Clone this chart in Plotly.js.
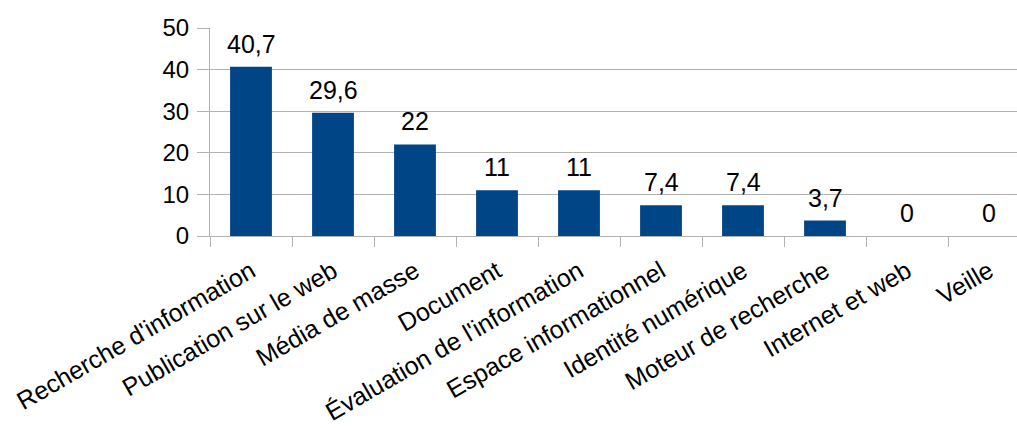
<!DOCTYPE html>
<html>
<head>
<meta charset="utf-8">
<script src="https://cdn.plot.ly/plotly-3.0.1.min.js"></script>
<style>
html, body { margin: 0; padding: 0; overflow: hidden; background: #fff; }
#chart { width: 1040px; height: 428px; }
</style>
</head>
<body>
<div id="chart"></div>
<script>
const categories = [
  "Recherche d'information",
  "Publication sur le web",
  "Média de masse",
  "Document",
  "Évaluation de l'information",
  "Espace informationnel",
  "Identité numérique",
  "Moteur de recherche",
  "Internet et web",
  "Veille"
];
const values = [40.7, 29.6, 22, 11, 11, 7.4, 7.4, 3.7, 0, 0];
const valueLabels = ["40,7", "29,6", "22", "11", "11", "7,4", "7,4", "3,7", "0", "0"];
const yTicks = [0, 10, 20, 30, 40, 50];

const FONT = "'Liberation Sans', Arial, sans-serif";
const GRID = "#b3b3b3";

const trace = {
  type: "bar",
  x: categories,
  y: values,
  marker: { color: "#004586" },
  hoverinfo: "none"
};

const annotations = categories.map((c, i) => ({
  x: c,
  y: values[i],
  text: valueLabels[i],
  showarrow: false,
  xanchor: "center",
  yanchor: "bottom",
  yshift: 7,
  font: { family: FONT, size: 25, color: "#000" }
}));

const layout = {
  width: 1040,
  height: 428,
  margin: { l: 210, r: 10, t: 27.5, b: 192.3, pad: 0 },
  paper_bgcolor: "#fff",
  plot_bgcolor: "#fff",
  showlegend: false,
  bargap: 0.49,
  font: { family: FONT, size: 24, color: "#000" },
  xaxis: {
    type: "category",
    tickson: "boundaries",
    ticks: "outside",
    ticklen: 10,
    tickwidth: 1,
    tickcolor: GRID,
    showline: true,
    linecolor: GRID,
    linewidth: 1,
    showgrid: false,
    tickangle: -30,
    ticklabelstandoff: 10,
    tickfont: { family: FONT, size: 25, color: "#000" },
    fixedrange: true
  },
  yaxis: {
    range: [0, 50],
    tickvals: yTicks,
    ticktext: yTicks.map(String),
    ticks: "outside",
    ticklen: 12,
    tickwidth: 1,
    tickcolor: GRID,
    showline: true,
    linecolor: GRID,
    linewidth: 1,
    showgrid: true,
    gridcolor: GRID,
    gridwidth: 1,
    zeroline: false,
    ticklabelstandoff: 3,
    tickfont: { family: FONT, size: 24, color: "#000" },
    fixedrange: true
  },
  annotations: annotations
};

Plotly.newPlot("chart", [trace], layout, { staticPlot: true, displayModeBar: false });
</script>
</body>
</html>
